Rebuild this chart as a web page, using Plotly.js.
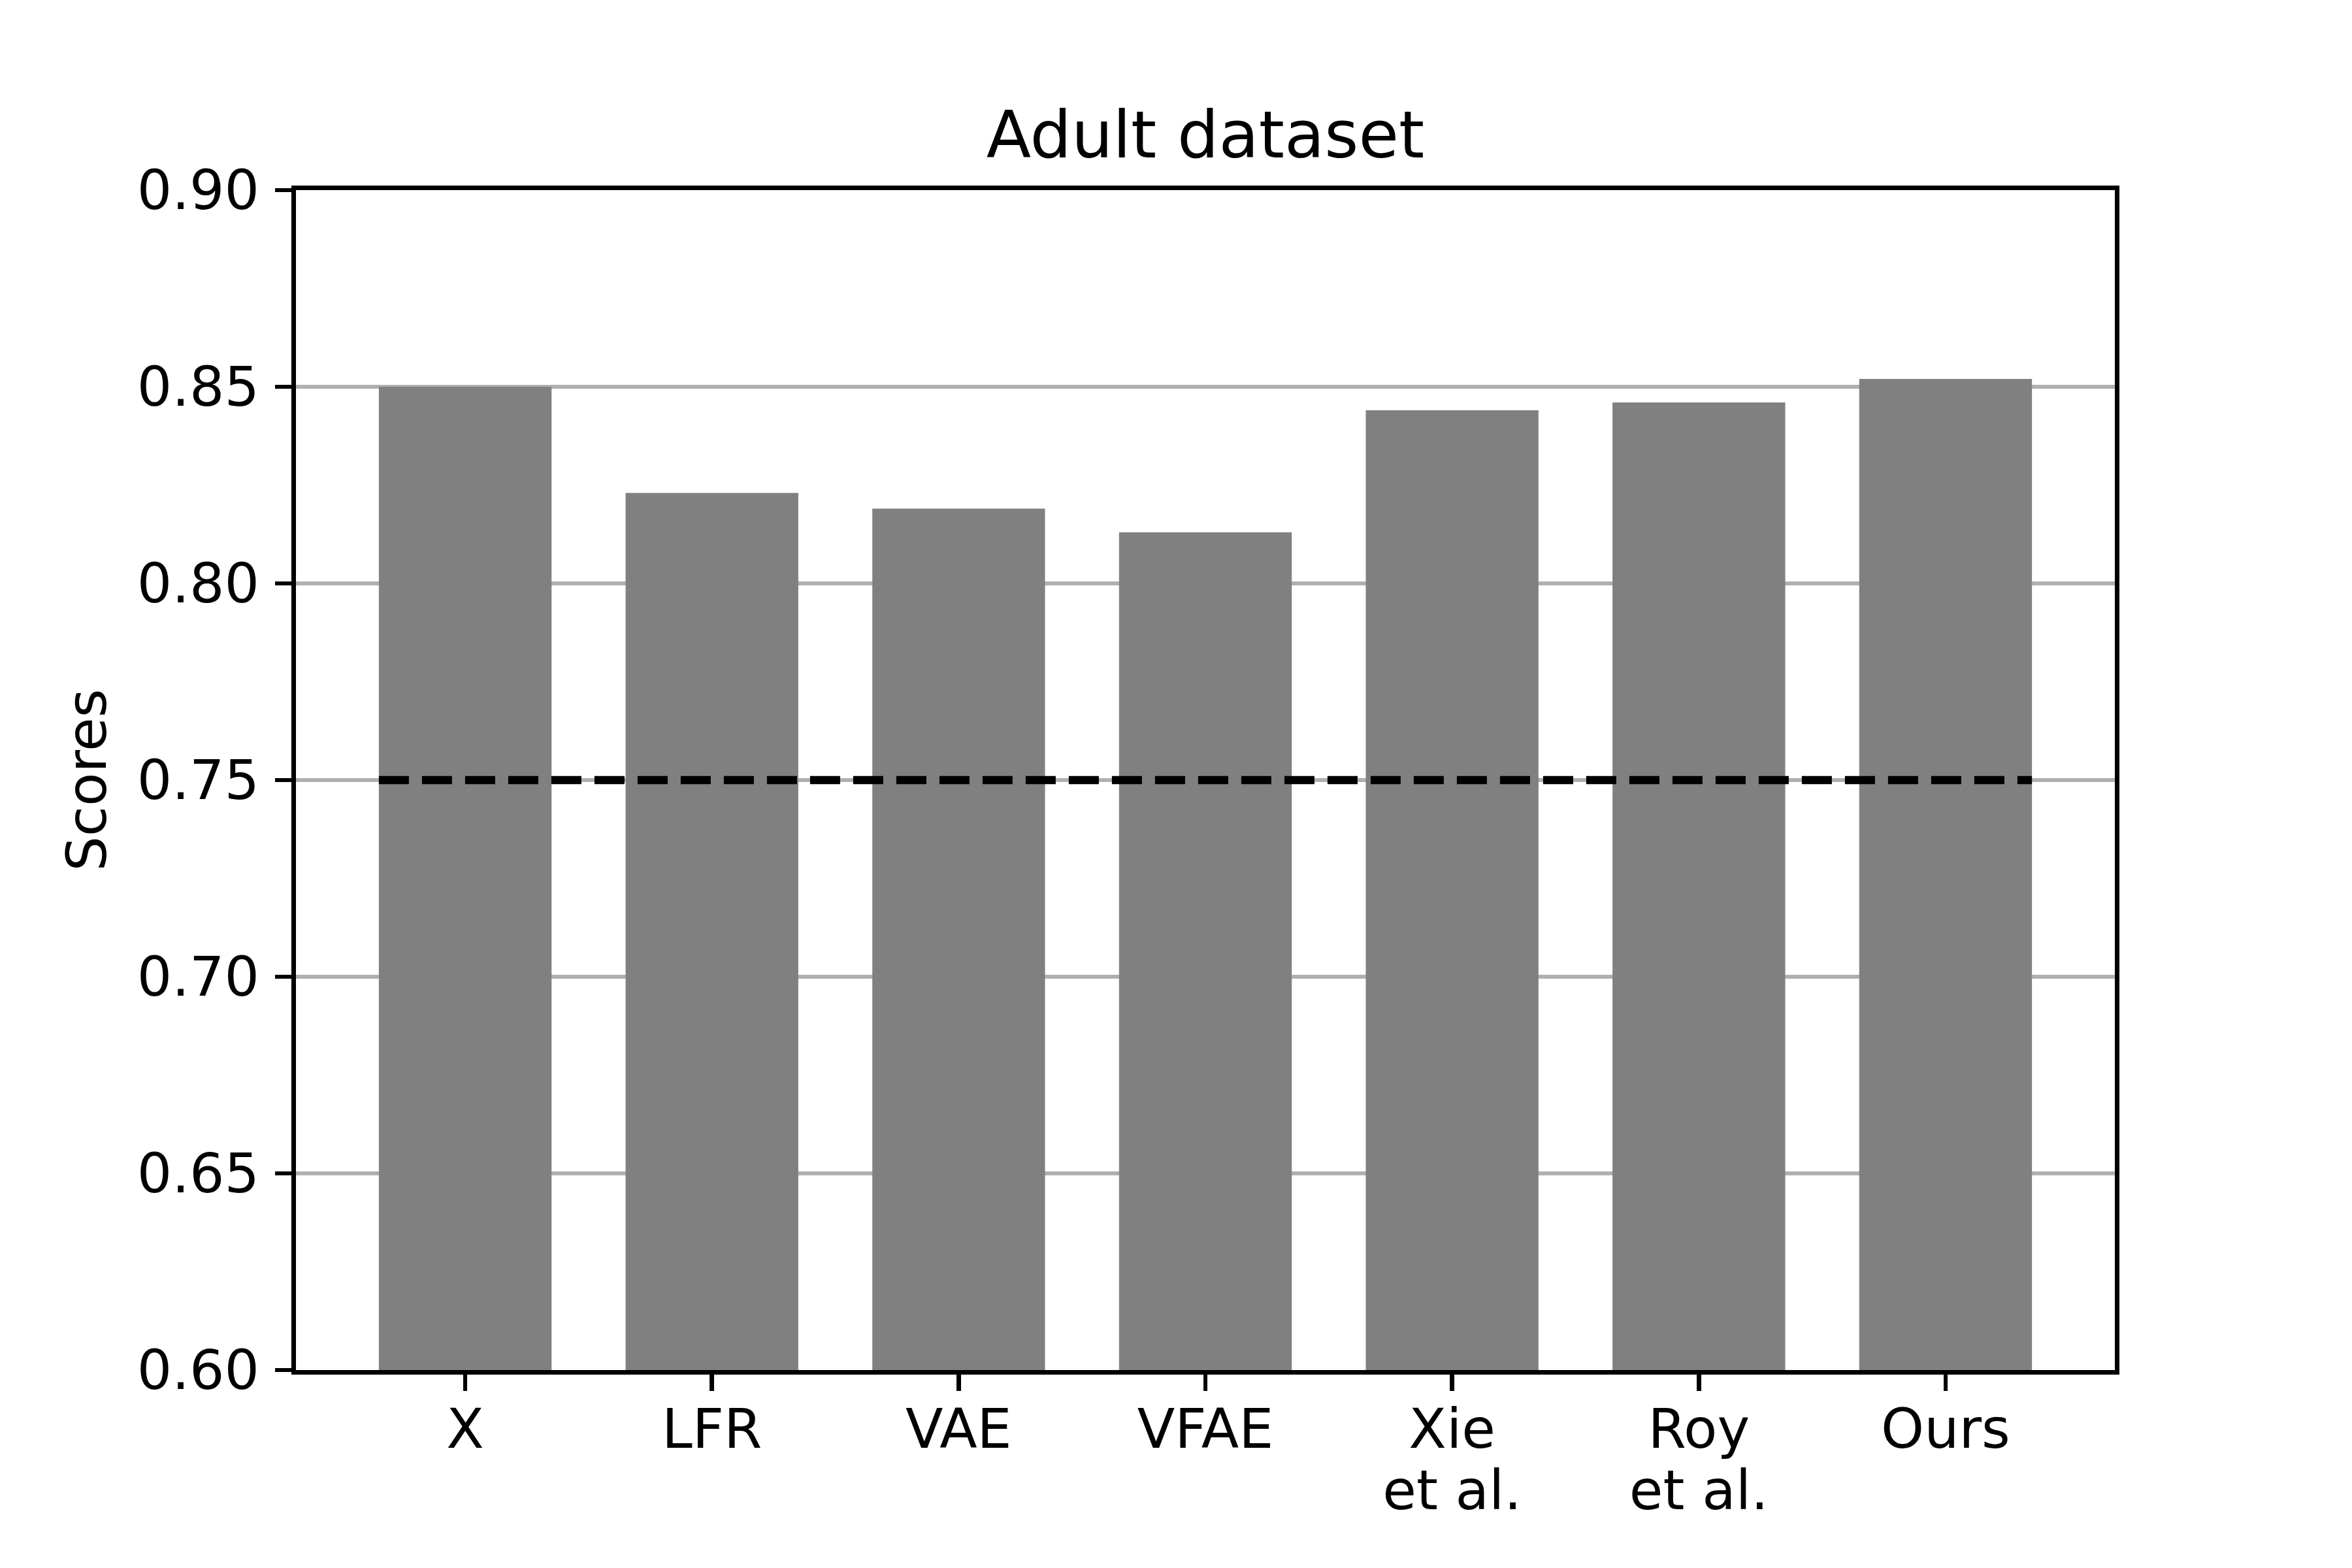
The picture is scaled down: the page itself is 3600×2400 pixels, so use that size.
<!DOCTYPE html>
<html>
<head>
<meta charset="utf-8">
<script src="https://cdn.plot.ly/plotly-3.0.1.min.js"></script>
<style>
  html, body { margin: 0; padding: 0; background: #ffffff; }
  #chart { width: 3600px; height: 2400px; }
</style>
</head>
<body>
<div id="chart"></div>
<script>
// ---- data ----
const categories = ["X", "LFR", "VAE", "VFAE", "Xie<br>et al.", "Roy<br>et al.", "Ours"];
const scores = [0.850, 0.823, 0.819, 0.813, 0.844, 0.846, 0.852];
const referenceLevel = 0.75;
const yTickValues = [0.60, 0.65, 0.70, 0.75, 0.80, 0.85, 0.90];

// ---- layout constants ----
const barWidth = 0.7;
const positions = categories.map((_, i) => i);
const FONT = "DejaVu Sans, Liberation Sans, sans-serif";
const LW = 6.67;            // 0.8pt at 600dpi
const HALF = LW / 2;        // plotly draws axis lines outside the plot area
const boxL = 450, boxR = 3240, boxT = 288, boxB = 2100;
const xPad = 0.686;
const xMin = positions[0] - xPad, xMax = positions[positions.length - 1] + xPad;
const yMin = yTickValues[0], yMax = yTickValues[yTickValues.length - 1];

const bars = {
  type: "bar",
  x: positions,
  y: scores,
  width: barWidth,
  marker: { color: "#808080", line: { width: 0 } },
  hoverinfo: "x+y",
  showlegend: false
};

const refLine = {
  type: "scatter",
  mode: "lines",
  x: [positions[0] - barWidth / 2, positions[positions.length - 1] + barWidth / 2],
  y: [referenceLevel, referenceLevel],
  line: { color: "#000000", width: 12.5, dash: "46px,20px" },
  showlegend: false,
  hoverinfo: "skip"
};

const layout = {
  width: 3600,
  height: 2400,
  paper_bgcolor: "#ffffff",
  plot_bgcolor: "#ffffff",
  margin: { l: boxL + HALF, r: 3600 - boxR + HALF, t: boxT + HALF, b: 2400 - boxB + HALF, pad: 0 },
  font: { family: FONT, size: 84, color: "#000000" },
  title: {
    text: "Adult dataset",
    font: { family: FONT, size: 100, color: "#000000" },
    x: (boxL + boxR) / 2 / 3600,
    xanchor: "center",
    xref: "container",
    yref: "container",
    y: 1 - 206 / 2400,
    yanchor: "middle"
  },
  xaxis: {
    type: "linear",
    range: [xMin, xMax],
    tickmode: "array",
    tickvals: positions,
    ticktext: categories,
    ticks: "outside",
    ticklen: 29 - HALF,
    tickwidth: LW,
    tickcolor: "#000000",
    ticklabelstandoff: -14,
    showgrid: false,
    zeroline: false,
    showline: true,
    mirror: true,
    linecolor: "#000000",
    linewidth: LW,
    tickfont: { family: FONT, size: 84, color: "#000000" }
  },
  yaxis: {
    range: [yMin, yMax],
    tickmode: "array",
    tickvals: yTickValues,
    ticktext: yTickValues.map(v => v.toFixed(2)),
    ticks: "outside",
    ticklen: 29 - HALF,
    tickwidth: LW,
    tickcolor: "#000000",
    ticklabelstandoff: 7,
    showgrid: true,
    gridcolor: "#b0b0b0",
    gridwidth: LW,
    zeroline: false,
    showline: true,
    mirror: true,
    linecolor: "#000000",
    linewidth: LW,
    tickfont: { family: FONT, size: 84, color: "#000000" },
    title: {
      text: "Scores",
      font: { family: FONT, size: 84, color: "#000000" },
      standoff: 22
    }
  }
};

Plotly.newPlot("chart", [bars, refLine], layout, { displayModeBar: false, staticPlot: true }).then(function () {
  // tighten multi-line tick label spacing to match the reference (~1.12 em)
  document.querySelectorAll("#chart .xtick text tspan.line").forEach(function (t) {
    const dy = t.getAttribute("dy");
    if (dy && dy.indexOf("em") > 0) {
      const v = parseFloat(dy);
      if (v > 0) t.setAttribute("dy", (v * 1.12 / 1.3).toFixed(3) + "em");
    }
  });
});
</script>
</body>
</html>
